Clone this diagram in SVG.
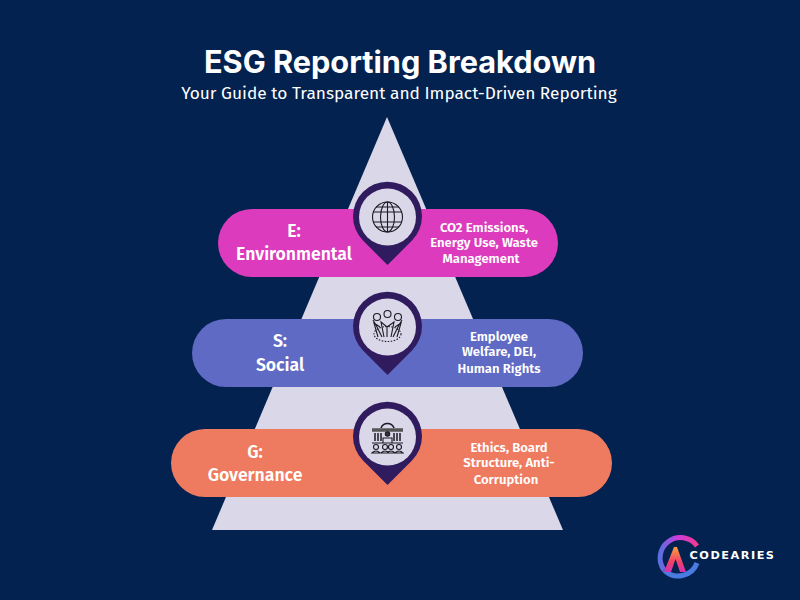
<svg xmlns="http://www.w3.org/2000/svg" width="800" height="600" viewBox="0 0 800 600">
<style>
.t{font-family:"Fira Sans","Noto Sans","Open Sans",sans-serif;fill:#fff;text-anchor:middle}
.h{font-size:17.600px;font-weight:600}
.d{font-size:13.100px;font-weight:600}
.ic{fill:none;stroke:#1a1a22;stroke-width:1.1}
.pin{fill:#2f1b5e}
.in{fill:#d9d7e8}
</style>
<defs>
<linearGradient id="lg" x1="0" y1="0" x2="1" y2="0"><stop offset="0" stop-color="#5a6fe0"/><stop offset=".45" stop-color="#c93ee0"/><stop offset="1" stop-color="#f13a90"/></linearGradient>
<linearGradient id="la" x1="0" y1="0" x2="0" y2="1"><stop offset="0" stop-color="#f9a23a"/><stop offset=".6" stop-color="#f0406a"/><stop offset="1" stop-color="#d431b0"/></linearGradient>
<g id="marker-pin"><path class="pin" d="M387.500 48 L363 23.500 A34.500 34.500 0 1 1 412 23.500 Z"/></g>
</defs>
<rect width="800" height="600" fill="#032250"/>
<text x="400" y="73" style="font-family:Inter,'Liberation Sans',sans-serif;font-size:30.700px;font-weight:700;fill:#fff;text-anchor:middle">ESG Reporting Breakdown</text>
<text x="399" y="99" style="font-family:'Fira Sans','Noto Sans',sans-serif;font-size:17.300px;fill:#fff;text-anchor:middle">Your Guide to Transparent and Impact-Driven Reporting</text>
<polygon id="pyramid" points="387,117 563,530 212,530" fill="#d9d7e8"/>
<g id="node-e">
<rect x="218" y="209" width="340" height="68" rx="34" fill="#dd3bbd"/>
<text class="t h" x="294" y="237">E:</text><text class="t h" x="294" y="260">Environmental</text>
<text class="t d" x="484" y="232">CO2 Emissions,</text><text class="t d" x="484" y="247">Energy Use, Waste</text><text class="t d" x="481" y="263">Management</text>
<use href="#marker-pin" y="217"/><circle class="in" cx="387.500" cy="217" r="28.500"/>
<g class="ic"><circle cx="387.500" cy="217" r="15"/><ellipse cx="387.500" cy="217" rx="7" ry="15"/><path d="M387.500 202V232M373 212H402M373 222H402M376 207H399M376 227H399"/></g>
</g>
<g id="node-s">
<rect x="192" y="319" width="391" height="68" rx="34" fill="#5f6ac4"/>
<text class="t h" x="280" y="347">S:</text><text class="t h" x="280" y="371">Social</text>
<text class="t d" x="499" y="341">Employee</text><text class="t d" x="499" y="356">Welfare, DEI,</text><text class="t d" x="499" y="373">Human Rights</text>
<use href="#marker-pin" y="327"/><circle class="in" cx="387.500" cy="327" r="28.500"/>
<g class="ic" stroke-width="1.300"><ellipse cx="387.500" cy="334" rx="13.500" ry="7.500" stroke-dasharray="1.500 1.500"/><path d="M382 337L376 325L373 320M393 337L399 325L402 320M384 337L381 322L387 327L394 322L391 337M378 337L374 323L380 327M397 337L401 323L395 327M387 327V337"/><circle cx="377" cy="317" r="3.500"/><circle cx="387.500" cy="314" r="3.500"/><circle cx="398" cy="317" r="3.500"/></g>
</g>
<g id="node-g">
<rect x="171" y="429" width="441" height="68" rx="34" fill="#ee7a60"/>
<text class="t h" x="255" y="458">G:</text><text class="t h" x="255" y="481">Governance</text>
<text class="t d" x="509" y="452">Ethics, Board</text><text class="t d" x="509" y="467">Structure, Anti-</text><text class="t d" x="506" y="484">Corruption</text>
<use href="#marker-pin" y="437"/><circle class="in" cx="387.500" cy="437" r="28.500"/>
<g class="ic" stroke="#444"><path d="M381 428A7 7 0 0 1 394 428" stroke-width="1.500"/><path d="M372 430H403" stroke-width="3.500" stroke="#555"/><path d="M375 433V441M378 433V441M381 433V441M394 433V441M397 433V441M400 433V441" stroke-width="1.500"/><circle cx="387.500" cy="434" r="2.200" fill="#333"/><path d="M383 443V438H392V443M372 443H403"/><circle cx="376" cy="447" r="2.500"/><circle cx="385" cy="447" r="2.500"/><circle cx="391" cy="447" r="2.500"/><circle cx="399" cy="447" r="2.500"/><path d="M372 453Q376 449 380 453ZM381 453Q385 449 389 453ZM387 453Q391 449 395 453ZM395 453Q399 449 403 453Z"/></g>
</g>
<g id="logo">
<path d="M697 546A20 20 0 1 0 664 570" fill="none" stroke="url(#lg)" stroke-width="5"/>
<path d="M664 570A20 20 0 0 0 697 563" fill="none" stroke="#4a7be0" stroke-width="5"/>
<path d="M664 572L674 547H677L686 572H680L675.500 559L671 572Z" fill="url(#la)"/>
<text x="689.500" y="559" style="font-family:'DejaVu Sans',sans-serif;font-size:11.300px;font-weight:700;letter-spacing:1.500px;fill:#fff">CODEARIES</text>
</g>
</svg>
